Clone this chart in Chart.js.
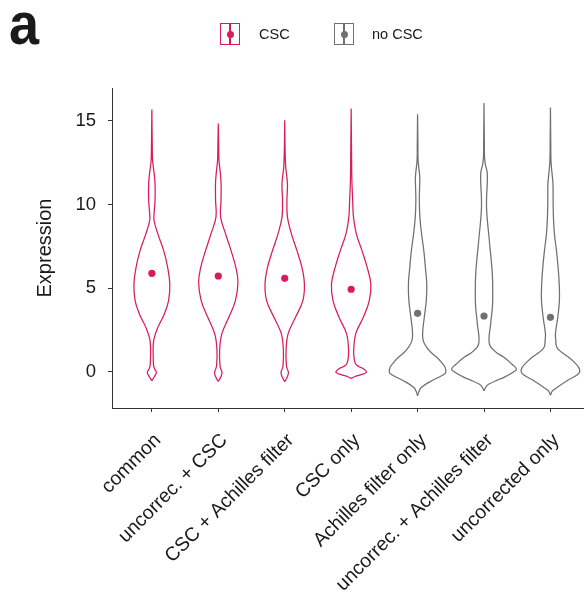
<!DOCTYPE html>
<html>
<head>
<meta charset="utf-8">
<script src="https://cdn.jsdelivr.net/npm/chart.js@4/dist/chart.umd.min.js"></script>
<style>
  html, body { margin: 0; padding: 0; background: #fff; }
  #wrap { position: relative; width: 587px; height: 609px; font-family: "Liberation Sans", Arial, sans-serif; color: #1a1a1a; }
  #chart { position: absolute; left: 0; top: 0; }
  .panel { position: absolute; left: 9px; top: -6px; font-size: 60px; font-weight: bold; transform: scaleX(0.9); transform-origin: left top; line-height: 60px; }
  .key { position: absolute; top: 23px; width: 20px; height: 22px; box-sizing: border-box; border: 1.4px solid; }
  .key .stem { position: absolute; left: 50%; top: 0; bottom: 0; width: 1.3px; margin-left: -0.65px; }
  .key .dot { position: absolute; left: 50%; top: 50%; width: 7px; height: 7px; margin: -3.5px 0 0 -3.5px; border-radius: 50%; }
  .keytxt { position: absolute; top: 25px; font-size: 14.5px; line-height: 18px; }
</style>
</head>
<body>
<div id="wrap">
  <canvas id="chart" width="587" height="609"></canvas>
  <div class="panel">a</div>
  <div class="key" id="keyCsc"><div class="stem"></div><div class="dot"></div></div>
  <div class="keytxt" style="left:259px">CSC</div>
  <div class="key" id="keyNo"><div class="stem"></div><div class="dot"></div></div>
  <div class="keytxt" style="left:372px">no CSC</div>
</div>
<script>
// Categories along the x axis and the group each one belongs to
const categories = ['common', 'uncorrec. + CSC', 'CSC + Achilles filter', 'CSC only',
                    'Achilles filter only', 'uncorrec. + Achilles filter', 'uncorrected only'];
const groups = ['CSC', 'CSC', 'CSC', 'CSC', 'no CSC', 'no CSC', 'no CSC'];

// Central value (dot) of each violin
const centerValues = [5.88, 5.72, 5.58, 4.93, 3.49, 3.33, 3.25];

// Y axis ticks
const yTicks = [0, 5, 10, 15];

// Violin profiles: [expression level, half-width in category units]
const profCommon = [[-0.54,0],[-0.40,0.023],[-0.22,0.05],[-0.04,0.068],[0.14,0.045],[0.35,0.027],[0.86,0.020],
  [1.86,0.027],[2.65,0.090],[3.45,0.188],[4.25,0.252],[5.25,0.270],[6.25,0.237],[7.25,0.177],[8.24,0.090],
  [9.04,0.033],[9.6,0.036],[10.24,0.048],[11.24,0.048],[11.9,0.033],[12.63,0.011],[13.5,0.006],[15.67,0]];
const profUncorrCsc = [[-0.58,0],[-0.45,0.02],[-0.25,0.045],[-0.04,0.056],[0.15,0.04],[0.35,0.026],[1.26,0.020],
  [2.26,0.053],[3.25,0.158],[4.25,0.258],[5.35,0.296],[6.25,0.263],[7.25,0.191],[8.24,0.110],[9.24,0.035],
  [10.24,0.041],[11.24,0.042],[11.9,0.030],[12.63,0.011],[13.5,0.006],[14.83,0]];
const profCscAchilles = [[-0.6,0],[-0.45,0.02],[-0.25,0.045],[-0.04,0.056],[0.15,0.04],[0.35,0.026],[1.26,0.020],
  [2.26,0.050],[3.25,0.162],[4.25,0.273],[5.25,0.296],[6.25,0.258],[7.25,0.183],[8.24,0.101],[9.24,0.041],
  [10.24,0.033],[11.24,0.041],[12.23,0.015],[13.2,0.006],[15.03,0]];
const profCscOnly = [[-0.4,0],[-0.3,0.05],[-0.18,0.15],[-0.04,0.23],[0.16,0.188],[0.3,0.12],[0.46,0.068],[0.8,0.045],
  [1.26,0.038],[2.26,0.068],[3.25,0.183],[4.25,0.273],[5.25,0.296],[6.25,0.240],[7.25,0.162],[8.24,0.078],
  [9.24,0.035],[10.24,0.023],[11.3,0.012],[12.23,0.008],[13.5,0.005],[15.73,0]];
const profAchillesOnly = [[-1.44,0],[-1.2,0.02],[-0.94,0.056],[-0.54,0.213],[-0.2,0.38],[-0.04,0.425],[0.26,0.413],
  [0.56,0.36],[0.86,0.288],[1.16,0.2],[1.46,0.138],[1.8,0.09],[2.26,0.075],[3.25,0.101],[4.25,0.131],[5.25,0.138],
  [6.25,0.117],[7.25,0.093],[8.24,0.060],[9.24,0.035],[10.24,0.026],[11.0,0.030],[11.64,0.033],[12.63,0.008],
  [13.5,0.005],[15.39,0]];
const profUncorrAchilles = [[-1.14,0],[-0.9,0.03],[-0.74,0.075],[-0.5,0.2],[-0.34,0.3],[0.0,0.45],[0.16,0.49],
  [0.45,0.42],[0.86,0.3],[1.2,0.17],[1.66,0.08],[2.86,0.1],[3.8,0.125],[4.45,0.131],[5.85,0.125],[7.84,0.080],
  [9.84,0.038],[11.84,0.050],[12.4,0.02],[12.83,0.008],[13.8,0.005],[16.07,0]];
const profUncorrOnly = [[-1.4,0],[-1.15,0.03],[-0.94,0.1],[-0.54,0.25],[-0.2,0.4],[0.0,0.44],[0.26,0.425],
  [0.56,0.36],[0.86,0.275],[1.16,0.17],[1.46,0.095],[1.9,0.08],[2.26,0.075],[3.25,0.11],[4.25,0.135],[5.25,0.132],
  [6.25,0.115],[7.25,0.09],[8.24,0.06],[9.24,0.045],[10.24,0.04],[11.24,0.038],[12.0,0.02],[12.63,0.008],
  [13.5,0.005],[15.79,0]];

const profiles = [profCommon, profUncorrCsc, profCscAchilles, profCscOnly,
                  profAchillesOnly, profUncorrAchilles, profUncorrOnly];

const groupColors = { 'CSC': '#d91b5c', 'no CSC': '#707070' };

// Legend keys
document.getElementById('keyCsc').style.cssText = 'left:220px;border-color:' + groupColors['CSC'];
document.getElementById('keyNo').style.cssText = 'left:334px;border-color:' + groupColors['no CSC'];
document.querySelectorAll('#keyCsc .stem, #keyCsc .dot').forEach(e => e.style.background = groupColors['CSC']);
document.querySelectorAll('#keyNo .stem, #keyNo .dot').forEach(e => e.style.background = groupColors['no CSC']);

// Closed outline for one violin: up the right side, down the left side
function outline(profile, center) {
  const right = profile.map(([y, w]) => ({ x: center + w, y }));
  const left = profile.slice().reverse().map(([y, w]) => ({ x: center - w, y }));
  return right.concat(left);
}

const datasets = profiles.map((p, i) => ({
  label: categories[i],
  data: outline(p, i + 1),
  showLine: true,
  borderColor: groupColors[groups[i]],
  borderWidth: 1.25,
  pointRadius: 0,
  tension: 0.4,
  fill: false
}));

datasets.push({
  label: 'center',
  data: centerValues.map((v, i) => ({ x: i + 1, y: v })),
  showLine: false,
  pointRadius: 3.6,
  pointBorderWidth: 0,
  pointBackgroundColor: groups.map(g => groupColors[g])
});

const fontFamily = '"Liberation Sans", Arial, sans-serif';

new Chart(document.getElementById('chart'), {
  type: 'scatter',
  data: { datasets },
  options: {
    responsive: false,
    animation: false,
    events: [],
    layout: { padding: { top: 88, left: 0, right: 0, bottom: 0 } },
    plugins: { legend: { display: false }, tooltip: { enabled: false } },
    scales: {
      x: {
        type: 'linear',
        min: 0.4,
        max: 7.49,
        afterBuildTicks: s => { s.ticks = categories.map((_, i) => ({ value: i + 1 })); },
        afterFit: s => { s.height = 201; s.paddingLeft = 0; s.paddingRight = 0; },
        ticks: {
          callback: v => categories[v - 1],
          font: { family: fontFamily, size: 19.5 },
          color: '#1a1a1a',
          minRotation: 45,
          maxRotation: 45,
          autoSkip: false,
          padding: 17,
          labelOffset: 6
        },
        grid: { drawOnChartArea: false, drawTicks: true, tickLength: 4, color: '#333' },
        border: { display: true, color: '#333', width: 1 }
      },
      y: {
        type: 'linear',
        min: -2.17,
        max: 16.96,
        afterBuildTicks: s => { s.ticks = yTicks.map(v => ({ value: v })); },
        afterFit: s => { s.width = 112; s.paddingTop = 0; s.paddingBottom = 0; },
        ticks: { font: { family: fontFamily, size: 18.5 }, color: '#1a1a1a', padding: 12 },
        grid: { drawOnChartArea: false, drawTicks: true, tickLength: 4, color: '#333' },
        border: { display: true, color: '#333', width: 1 },
        title: {
          display: true,
          text: 'Expression',
          font: { family: fontFamily, size: 20 },
          color: '#1a1a1a',
          padding: { top: 33, bottom: 0 }
        }
      }
    }
  }
});
</script>
</body>
</html>
